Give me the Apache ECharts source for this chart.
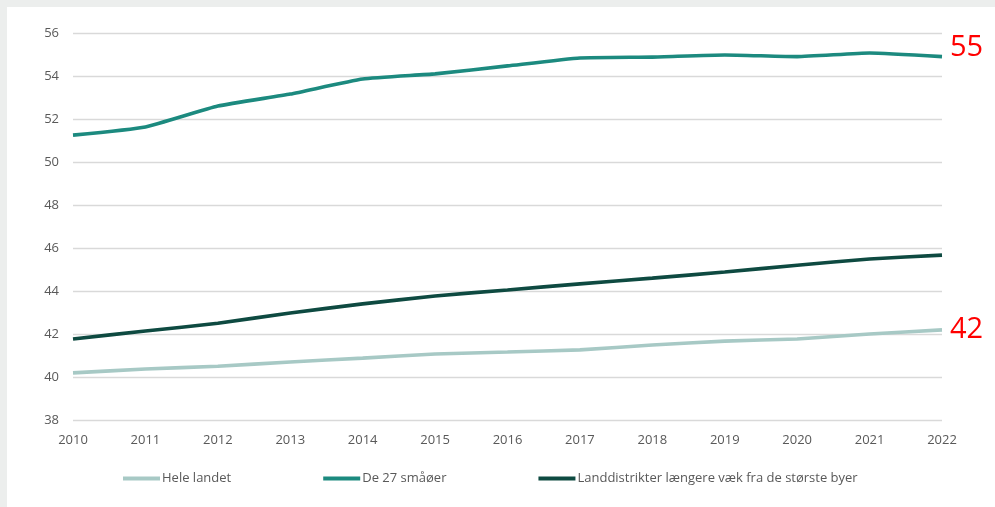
<!DOCTYPE html>
<html>
<head>
<meta charset="utf-8">
<script src="https://cdn.jsdelivr.net/npm/echarts@6/dist/echarts.min.js"></script>
<style>
html,body{margin:0;padding:0;width:995px;height:507px;background:#eceeed;overflow:hidden;}
#c{position:absolute;left:7px;top:7px;width:988px;height:500px;background:#ffffff;}
</style>
</head>
<body>
<div id="c"></div>
<script>
const years = ['2010','2011','2012','2013','2014','2015','2016','2017','2018','2019','2020','2021','2022'];
const heleLandet = [40.19,40.37,40.5,40.7,40.88,41.07,41.16,41.26,41.49,41.67,41.77,42.0,42.19];
const smaaoer = [51.25,51.63,52.6,53.16,53.86,54.1,54.47,54.84,54.88,54.98,54.9,55.07,54.9];
const landdistrikter = [41.77,42.14,42.5,42.98,43.4,43.77,44.05,44.33,44.6,44.88,45.2,45.49,45.67];
const seriesNames = ['Hele landet','De 27 småøer','Landdistrikter længere væk fra de største byer'];
const colors = ['#a7c9c5','#1c8a7f','#0e4a41'];

const font = 'Open Sans, Noto Sans, sans-serif';
const chart = echarts.init(document.getElementById('c'));
const endLbl = (offset) => ({
  show: true, color: '#ff0000', fontSize: 29, fontFamily: font, distance: 8, offset: offset,
  formatter: p => String(Math.round(p.value))
});
chart.setOption({
  animation: false,
  color: colors,
  grid: {left: 66, right: 53, top: 26, bottom: 87},
  legend: {
    bottom: 17, left: 111, itemWidth: 37, itemHeight: 4, itemGap: 92, icon: 'rect',
    textStyle: {color: '#595959', fontSize: 13, fontFamily: font, padding: [0,0,0,-3]},
    data: seriesNames
  },
  xAxis: {
    type: 'category', data: years, boundaryGap: false,
    axisLine: {show: false}, axisTick: {show: false},
    axisLabel: {color: '#595959', fontSize: 13, fontFamily: font, margin: 14}
  },
  yAxis: {
    type: 'value', min: 38, max: 56, interval: 2,
    axisLine: {show: false}, axisTick: {show: false},
    axisLabel: {color: '#595959', fontSize: 13, fontFamily: font, margin: 14},
    splitLine: {lineStyle: {color: '#d9d9d9', width: 1.3}}
  },
  series: [
    {name: seriesNames[0], type: 'line', data: heleLandet, symbol: 'none', smooth: 0.15,
     lineStyle: {width: 3.6, color: colors[0]}, endLabel: endLbl([0, 0])},
    {name: seriesNames[1], type: 'line', data: smaaoer, symbol: 'none', smooth: 0.15,
     lineStyle: {width: 3.6, color: colors[1]}, endLabel: endLbl([0, -9])},
    {name: seriesNames[2], type: 'line', data: landdistrikter, symbol: 'none', smooth: 0.15,
     lineStyle: {width: 3.6, color: colors[2]}}
  ]
});
</script>
</body>
</html>
